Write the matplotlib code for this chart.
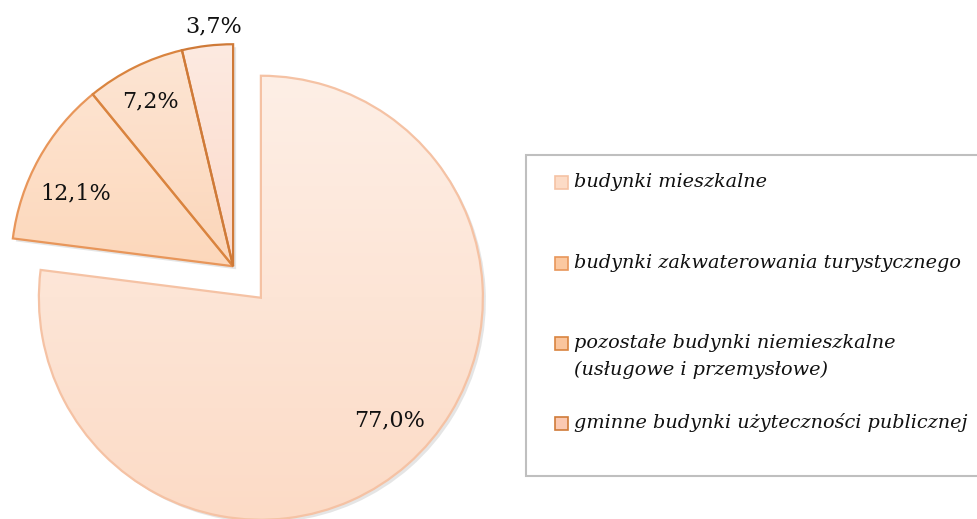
import numpy as np
import matplotlib
matplotlib.use("Agg")
from matplotlib import pyplot as plt
from matplotlib.patches import Wedge, Rectangle
from matplotlib.colors import to_rgb

# dane wykresu
kategorie = ["budynki mieszkalne",
             "budynki zakwaterowania turystycznego",
             "pozostałe budynki niemieszkalne\n(usługowe i przemysłowe)",
             "gminne budynki użyteczności publicznej"]
udzialy = [77.0, 12.1, 7.2, 3.7]
etykiety = ["77,0%", "12,1%", "7,2%", "3,7%"]

# kolory (gora / dol gradientu, krawedz)
kolor_gora = ["#FEEFE6", "#FEE7D6", "#FDE6D5", "#FDEAE1"]
kolor_dol = ["#FCDBC6", "#FBC8A0", "#FAC59D", "#FBC9B2"]
kolor_krawedz = ["#F5C2A4", "#E8965A", "#D9843F", "#CF7A38"]

W, H = 977, 519
fig = plt.figure(figsize=(W / 100, H / 100), dpi=100)
ax = fig.add_axes([0, 0, 1, 1])
ax.set_xlim(0, W)
ax.set_ylim(0, H)
ax.axis("off")

# geometria kola (w pikselach)
srodek = np.array([247.0, H - 282.0])
promien = 222
odsuniecie = 21
# polozenie etykiet: odleglosc (w promieniach) i przesuniecie kata
odl_etykiet = [0.80, 0.78, 0.83, 1.085]
kat_etykiet = [5.0, 4.0, 0.5, -2.0]

# katy wycinkow - zgodnie z ruchem wskazowek od godziny 12
katy = 360 * np.array(udzialy) / sum(udzialy)
koniec = 90 - np.concatenate([[0], np.cumsum(katy)[:-1]])
poczatek = koniec - katy

# pierwszy wycinek odsuniety osobno, reszta razem jako grupa
sr_duzy = np.deg2rad((poczatek[0] + koniec[0]) / 2)
sr_grupa = np.deg2rad((poczatek[-1] + koniec[1]) / 2)
centra = []
for i in range(len(udzialy)):
    a = sr_duzy if i == 0 else sr_grupa
    centra.append(srodek + odsuniecie * np.array([np.cos(a), np.sin(a)]))


def gradient(gora, dol, n=256):
    g = np.array(to_rgb(gora))
    d = np.array(to_rgb(dol))
    t = np.linspace(0, 1, n)[:, None]
    return (g * (1 - t) + d * t)[:, None, :]


for i in range(len(udzialy)):
    c = centra[i]
    # cien
    cien = Wedge((c[0] + 3, c[1] - 3), promien, poczatek[i], koniec[i],
                 facecolor="#999999", edgecolor="none", alpha=0.25, zorder=1)
    ax.add_patch(cien)
    klin = Wedge(tuple(c), promien, poczatek[i], koniec[i],
                 facecolor="none", edgecolor=kolor_krawedz[i], linewidth=1.6,
                 zorder=3)
    ax.add_patch(klin)
    img = ax.imshow(gradient(kolor_gora[i], kolor_dol[i]),
                    extent=[c[0] - promien, c[0] + promien,
                            c[1] - promien, c[1] + promien],
                    origin="upper", aspect="auto", zorder=2)
    img.set_clip_path(klin)

    a = np.deg2rad((poczatek[i] + koniec[i]) / 2 + kat_etykiet[i])
    r = odl_etykiet[i] * promien
    ax.text(c[0] + r * np.cos(a), c[1] + r * np.sin(a), etykiety[i],
            ha="center", va="center", fontsize=16, family="DejaVu Serif",
            color="#111111", zorder=5)

ax.set_xlim(0, W)
ax.set_ylim(0, H)

# legenda
ax.add_patch(Rectangle((526, H - 476), 470, 321, facecolor="white",
                       edgecolor="#BFBFBF", linewidth=1.5, zorder=4))
legenda_y = [182, 263, 343, 423]
for i, nazwa in enumerate(kategorie):
    y = H - legenda_y[i]
    ax.add_patch(Rectangle((555, y - 6.5), 13, 13, facecolor=kolor_dol[i],
                           edgecolor=kolor_krawedz[i], linewidth=1.2, zorder=5))
    if "\n" in nazwa:
        ax.text(574, y + 9, nazwa, ha="left", va="top",
                fontsize=13.9, family="DejaVu Serif", style="italic",
                color="#111111", zorder=6, linespacing=1.6)
    else:
        ax.text(574, y, nazwa, ha="left", va="center",
                fontsize=13.9, family="DejaVu Serif", style="italic",
                color="#111111", zorder=6)

fig.savefig("out.png", dpi=100)
